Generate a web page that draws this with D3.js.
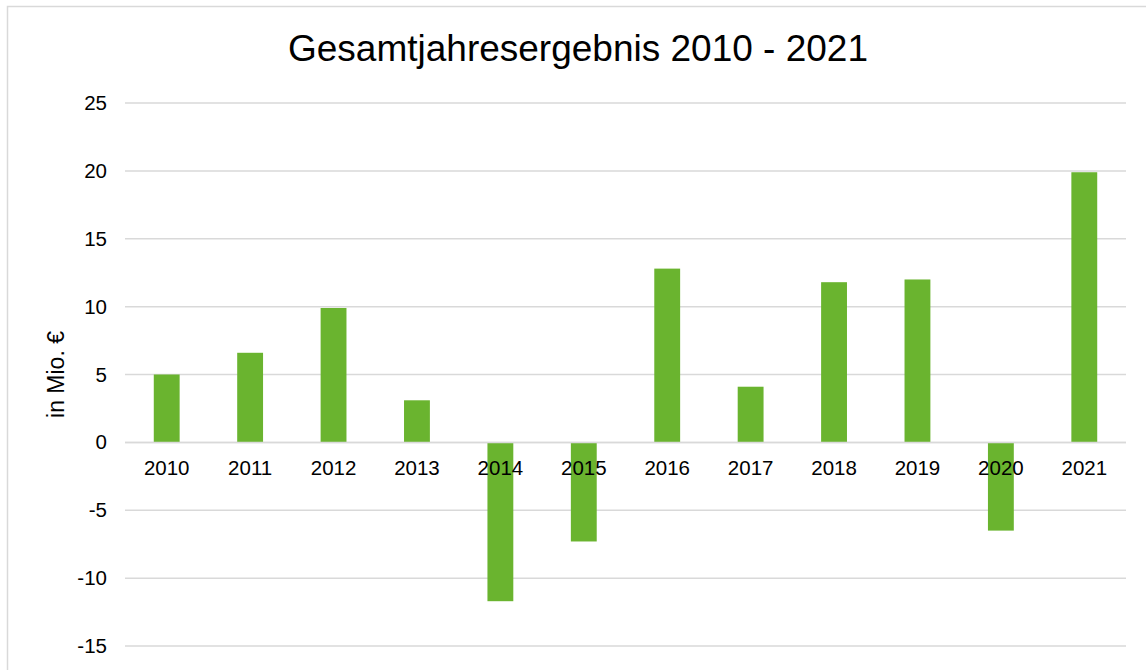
<!DOCTYPE html>
<html>
<head>
<meta charset="utf-8">
<script src="https://cdn.jsdelivr.net/npm/d3@7"></script>
<style>
  body { margin: 0; background: #fff; }
  svg { display: block; font-family: "Liberation Sans", Arial, sans-serif; }
</style>
</head>
<body>
<div id="chart"></div>
<script>
// chart data
const years = ["2010", "2011", "2012", "2013", "2014", "2015", "2016", "2017", "2018", "2019", "2020", "2021"]
const results = [5.0, 6.6, 9.9, 3.1, -11.7, -7.3, 12.8, 4.1, 11.8, 12.0, -6.5, 19.9]
const yTicks = [-15, -10, -5, 0, 5, 10, 15, 20, 25]
const titleText = "Gesamtjahresergebnis 2010 - 2021"
const yLabel = "in Mio. €"

const width = 1146
const height = 670
const margin = { top: 103, right: 20, bottom: 24, left: 125 }
const plotRight = 1126

const svg = d3.select("#chart")
  .append("svg")
    .attr("width", width)
    .attr("height", height)

// outer chart border (runs off the right and bottom edges)
svg.append("rect")
  .attr("x", 7.5)
  .attr("y", 6.5)
  .attr("width", width + 20)
  .attr("height", height + 20)
  .attr("fill", "#fff")
  .attr("stroke", "#d9d9d9")
  .attr("stroke-width", 1.5)

const xScale = d3.scaleBand()
  .domain(years)
  .range([margin.left, plotRight])
  .paddingInner(0.69)
  .paddingOuter(0.345)

const yScale = d3.scaleLinear()
  .domain([-15, 25])
  .range([646, margin.top])

// gridlines
svg.append("g")
  .selectAll("line")
  .data(yTicks)
  .enter().append("line")
    .attr("x1", margin.left)
    .attr("x2", plotRight)
    .attr("y1", d => yScale(d))
    .attr("y2", d => yScale(d))
    .attr("stroke", "#d9d9d9")
    .attr("stroke-width", 1.5)

// bars
svg.append("g")
  .selectAll("rect")
  .data(results)
  .enter().append("rect")
    .attr("x", (d, i) => xScale(years[i]))
    .attr("y", d => yScale(Math.max(0, d)))
    .attr("width", xScale.bandwidth())
    .attr("height", d => Math.abs(yScale(d) - yScale(0)))
    .attr("fill", "#6ab42f")

// zero axis line on top of the bars
svg.append("line")
  .attr("x1", margin.left)
  .attr("x2", plotRight)
  .attr("y1", yScale(0))
  .attr("y2", yScale(0))
  .attr("stroke", "#d9d9d9")
  .attr("stroke-width", 1.5)

// y axis tick labels (plain hyphen for negatives, like the original)
const yAxis = d3.axisLeft(yScale)
  .tickValues(yTicks)
  .tickSize(0)
  .tickPadding(18)
  .tickFormat(d => String(d))

svg.append("g")
  .attr("transform", `translate(${margin.left}, 0)`)
  .call(yAxis)
  .call(g => g.select(".domain").remove())
  .call(g => g.selectAll("text")
    .attr("font-family", "Liberation Sans, Arial, sans-serif")
    .attr("font-size", 20.5)
    .attr("fill", "#000"))

// x axis category labels, drawn over the bars just below zero
const xAxis = d3.axisBottom(xScale)
  .tickSize(0)
  .tickPadding(18)

svg.append("g")
  .attr("transform", `translate(0, ${yScale(0)})`)
  .call(xAxis)
  .call(g => g.select(".domain").remove())
  .call(g => g.selectAll("text")
    .attr("font-family", "Liberation Sans, Arial, sans-serif")
    .attr("font-size", 20.5)
    .attr("fill", "#000"))

// y axis title
svg.append("text")
  .attr("transform", `translate(64, ${(yScale(-15) + yScale(25)) / 2}) rotate(-90)`)
  .attr("text-anchor", "middle")
  .attr("font-size", 23)
  .attr("fill", "#000")
  .text(yLabel)

// chart title
svg.append("text")
  .attr("x", 578)
  .attr("y", 61)
  .attr("text-anchor", "middle")
  .attr("font-size", 37)
  .attr("fill", "#000")
  .text(titleText)
</script>
</body>
</html>
